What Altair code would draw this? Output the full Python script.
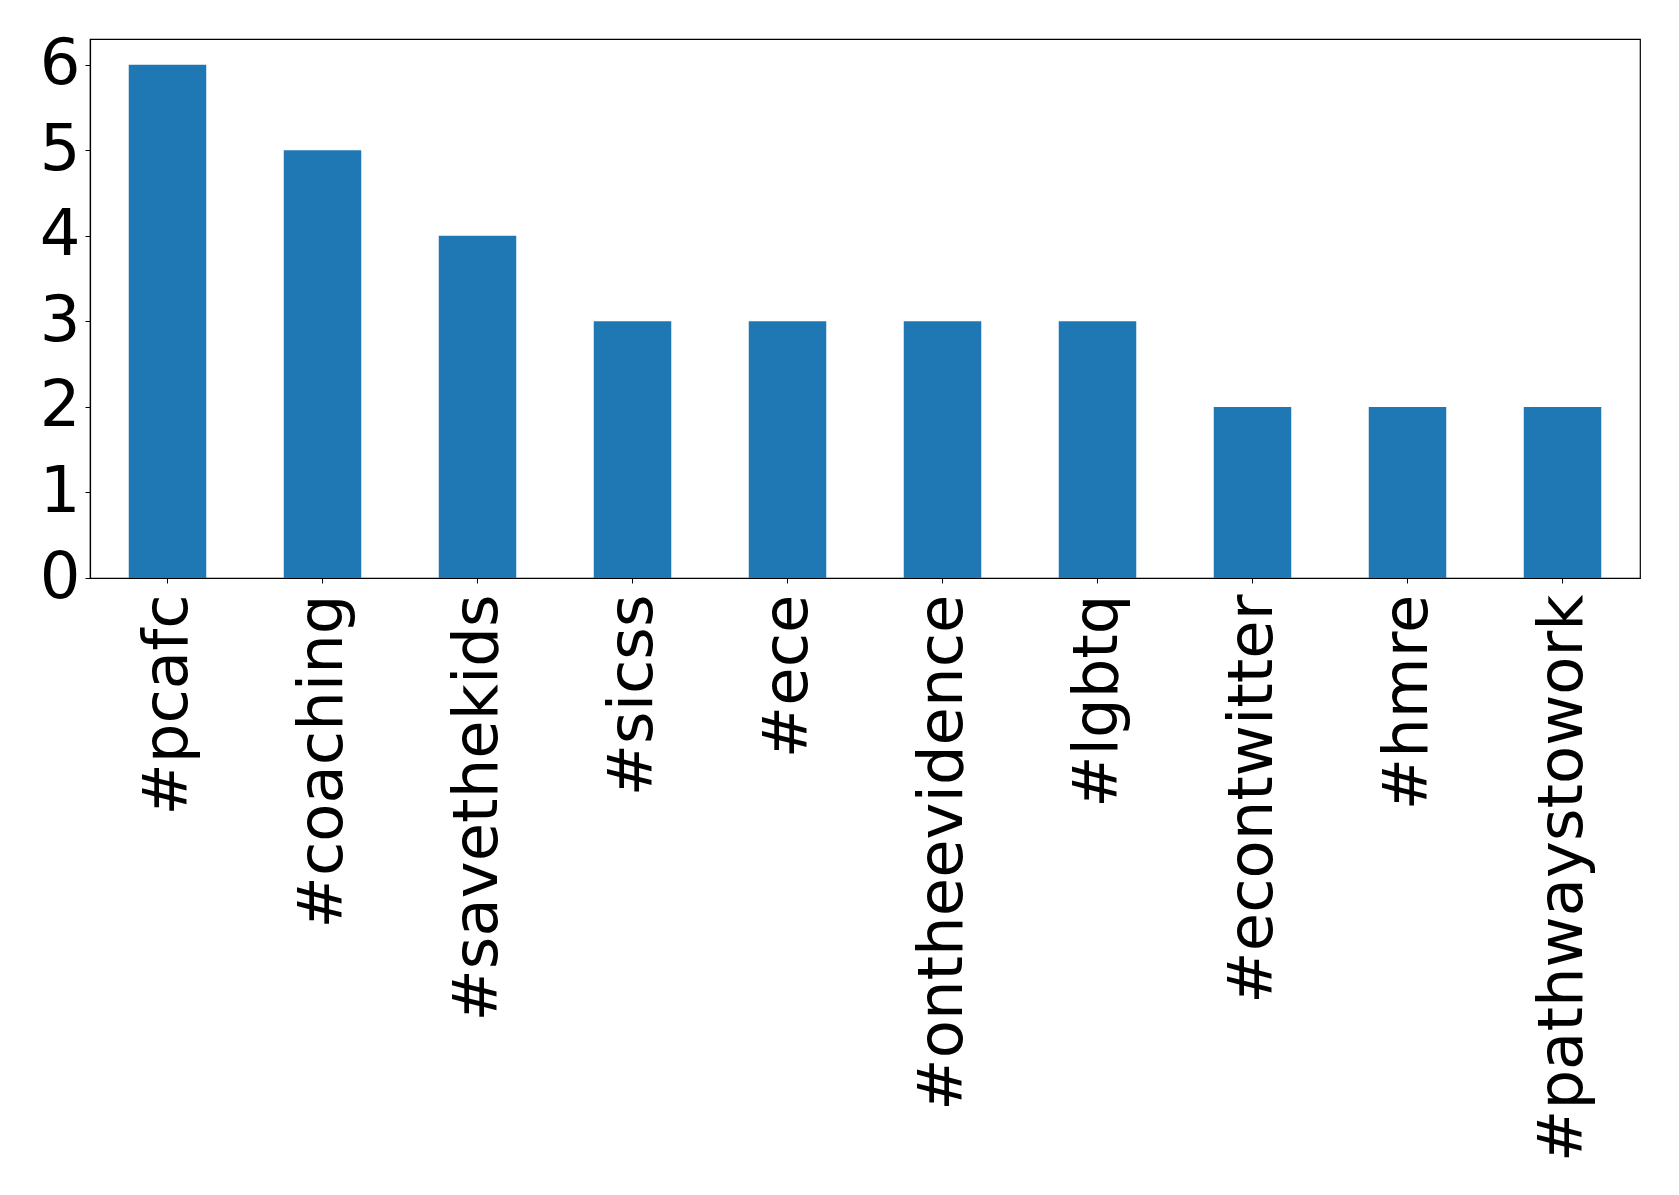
import altair as alt
import pandas as pd

tags = ["#pcafc", "#coaching", "#savethekids", "#sicss", "#ece",
        "#ontheevidence", "#lgbtq", "#econtwitter", "#hmre", "#pathwaystowork"]
counts = [6, 5, 4, 3, 3, 3, 3, 2, 2, 2]
y_ticks = [0, 1, 2, 3, 4, 5, 6]

df = pd.DataFrame({"tag": tags, "count": counts})

FONT = "DejaVu Sans"

chart = alt.Chart(df).mark_bar(color="#1f77b4").encode(
    x=alt.X("tag:N", sort=tags,
            scale=alt.Scale(paddingInner=0.5, paddingOuter=0.25),
            axis=alt.Axis(title=None, labelAngle=270, labelAlign="right",
                          labelBaseline="middle", labelFont=FONT, labelFontSize=62.5,
                          labelColor="black", labelPadding=11, tickColor="black",
                          tickSize=5, tickWidth=1, domainColor="black", domainWidth=1.2,
                          labelOverlap=False, labelLimit=0)),
    y=alt.Y("count:Q", scale=alt.Scale(domain=[0, 6.3], nice=False, zero=True),
            axis=alt.Axis(title=None, values=y_ticks, grid=False, labelFont=FONT,
                          labelFontSize=64, labelColor="black", labelPadding=5,
                          tickColor="black", tickSize=5, tickWidth=1,
                          domainColor="black", domainWidth=1.2, format="d")),
).properties(
    width=1550, height=539,
    autosize=alt.AutoSizeParams(type="none"),
    padding={"left": 82, "top": 31, "right": 15, "bottom": 590},
).configure(
    background="white"
).configure_view(
    stroke="black", strokeWidth=1.2
)

chart.save("out.html", embed_options={"renderer": "svg", "actions": False})
